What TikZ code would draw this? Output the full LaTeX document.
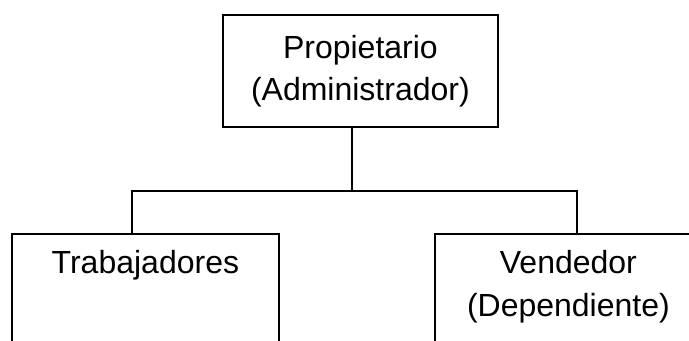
\documentclass[tikz,border=0pt]{standalone}
\usepackage{fontspec}
\setmainfont{Liberation Sans}
\usetikzlibrary{positioning}
\begin{document}
\begin{tikzpicture}[x=0.75pt, y=-0.75pt,
	orgbox/.style={draw, line width=1.6pt, rectangle, anchor=north west, inner sep=0pt, align=center, font=\fontsize{24}{32}\selectfont},
	orgtext/.style={inner sep=0pt, align=center, font=\fontsize{24}{32}\selectfont},
	link/.style={line width=1.6pt}]
	\useasboundingbox (0,0) rectangle (689,340);
	\clip (0,0) rectangle (689,340);
	% Jefe
	\node[orgbox, minimum width=206pt, minimum height=84pt] (owner) at (222,14) {
		Propietario\\
		(Administrador)
	};
	% Personal
	\node[orgbox, minimum width=200pt, minimum height=112pt] (worker) at (11,233) {};
	\node[orgbox, minimum width=200pt, minimum height=112pt] (seller) at (434,233) {};
	\node[orgtext, below=13pt of worker.north] (workertext) {Trabajadores};
	\node[orgtext, below=13pt of seller.north] (sellertext) {
		Vendedor\\
		(Dependiente)
	};
	% Lineas
	\coordinate (split) at (352,191);
	\coordinate (busL) at (132,191);
	\coordinate (busR) at (577,191);
	\draw[link] (owner.south -| split) -- (split);
	\draw[link] (busL |- worker.north) -- (busL) -- (busR) -- (busR |- seller.north);
\end{tikzpicture}
\end{document}
